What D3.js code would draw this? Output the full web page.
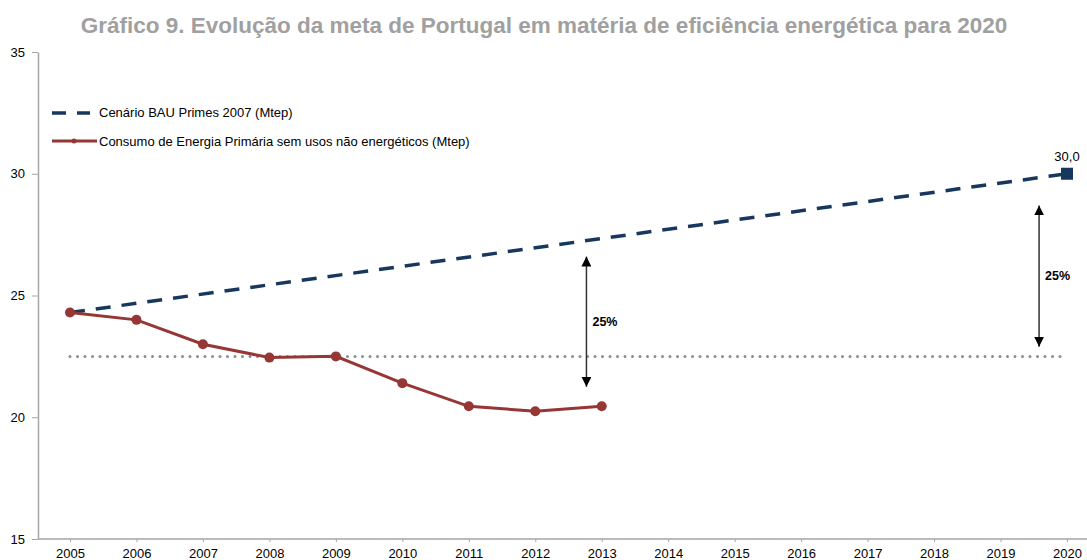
<!DOCTYPE html>
<html>
<head>
<meta charset="utf-8">
<script src="https://cdn.jsdelivr.net/npm/d3@7"></script>
<style>
	body{margin:0;background:#fff;}
	svg text{font-family:"Liberation Sans",Arial,sans-serif;}
	.axis path,.axis line{stroke:#a6a6a6;}
	.axis text{fill:#000;font-size:13px;}
</style>
</head>
<body>
<div id="chart"></div>
<script>
// anos e valores
var years=[2005,2006,2007,2008,2009,2010,2011,2012,2013,2014,2015,2016,2017,2018,2019,2020]
var consumoYears=[2005,2006,2007,2008,2009,2010,2011,2012,2013]
var consumo=[24.3,24.0,23.0,22.45,22.5,21.4,20.45,20.25,20.45]
var bauYears=[2005,2020]
var bau=[24.3,30.0]
var meta=22.5 // linha pontilhada
var yTicks=[15,20,25,30,35]
// setas de 25%: [ano, topo, base]
var arrows=[[2012.77,26.6,21.25],[2019.58,28.7,22.9]]

var title="Gráfico 9. Evolução da meta de Portugal em matéria de eficiência energética para 2020"
var legendLabels=["Cenário BAU Primes 2007 (Mtep)","Consumo de Energia Primária sem usos não energéticos (Mtep)"]

var width=1087, height=560

var svg=d3.select("#chart").append("svg")
	.attr("width",width)
	.attr("height",height)

var xScale=d3.scaleLinear().domain([2005,2020]).range([70,1067])
var yScale=d3.scaleLinear().domain([15,35]).range([539,52])

var red="#953735", navy="#17375e"

// titulo
svg.append("text")
	.attr("x",544).attr("y",33)
	.attr("text-anchor","middle")
	.style("font-size","22.5px").style("font-weight","bold")
	.attr("fill","#a0a0a0")
	.text(title)

// eixo y
var yAxis=svg.append("g")
	.attr("class","axis")
	.attr("transform","translate(38,0)")
	.call(d3.axisLeft(yScale).tickValues(yTicks).tickSize(6).tickPadding(7).tickSizeOuter(0))
yAxis.select(".domain").attr("stroke-width",1.5)

// eixo x
var xAxis=svg.append("g")
	.attr("class","axis")
	.attr("transform","translate(0,539)")
	.call(d3.axisBottom(xScale).tickValues(years).tickFormat(d3.format("d")).tickSize(3).tickPadding(7).tickSizeOuter(0))
xAxis.select(".domain").attr("d","M38,0H1087").attr("stroke-width",1.5)

// linha da meta
svg.append("line")
	.attr("x1",xScale(2005)).attr("x2",xScale(2020)-4)
	.attr("y1",yScale(meta)).attr("y2",yScale(meta))
	.attr("stroke","#8c8c8c").attr("stroke-width",3)
	.attr("stroke-dasharray","0 7.5").attr("stroke-linecap","round")

// cenário BAU
var line=d3.line()
	.x(function(d){return xScale(d[0])})
	.y(function(d){return yScale(d[1])})

svg.append("path")
	.datum(d3.zip(bauYears,bau))
	.attr("d",line)
	.attr("fill","none").attr("stroke",navy).attr("stroke-width",3.5)
	.attr("stroke-dasharray","15 11")

svg.append("rect")
	.attr("x",xScale(2020)-6).attr("y",yScale(30)-6)
	.attr("width",12).attr("height",12)
	.attr("fill",navy)
svg.append("text")
	.attr("x",xScale(2020)).attr("y",yScale(30)-13)
	.attr("text-anchor","middle").style("font-size","13px")
	.text(d3.format(".1f")(bau[1]).replace(".",","))

// consumo
var cons=d3.zip(consumoYears,consumo)
svg.append("path")
	.datum(cons)
	.attr("d",line)
	.attr("fill","none").attr("stroke",red).attr("stroke-width",3)
svg.selectAll(".dot")
	.data(cons)
	.enter().append("circle")
	.attr("class","dot")
	.attr("cx",function(d){return xScale(d[0])})
	.attr("cy",function(d){return yScale(d[1])})
	.attr("r",5)
	.attr("fill",red)

// setas
var defs=svg.append("defs")
defs.append("marker")
	.attr("id","head")
	.attr("viewBox","0 0 10 10")
	.attr("refX",10).attr("refY",5)
	.attr("markerWidth",10).attr("markerHeight",10)
	.attr("markerUnits","userSpaceOnUse")
	.attr("orient","auto-start-reverse")
	.append("path").attr("d","M0,0L10,5L0,10Z").attr("fill","#000")

arrows.forEach(function(a){
	svg.append("line")
		.attr("x1",xScale(a[0])).attr("x2",xScale(a[0]))
		.attr("y1",yScale(a[1])).attr("y2",yScale(a[2]))
		.attr("stroke","#333").attr("stroke-width",1.5)
		.attr("marker-start","url(#head)").attr("marker-end","url(#head)")
	svg.append("text")
		.attr("x",xScale(a[0])+6).attr("y",(yScale(a[1])+yScale(a[2]))/2+4)
		.style("font-size","12.5px").style("font-weight","bold")
		.text("25%")
})

// legenda
var leg=svg.append("g").attr("transform","translate(52,0)")
leg.append("line")
	.attr("x1",0).attr("x2",38).attr("y1",113).attr("y2",113)
	.attr("stroke",navy).attr("stroke-width",3.5).attr("stroke-dasharray","14 11")
leg.append("line")
	.attr("x1",0).attr("x2",45).attr("y1",141).attr("y2",141)
	.attr("stroke",red).attr("stroke-width",3)
leg.append("circle").attr("cx",22).attr("cy",141).attr("r",2.5).attr("fill",red)
leg.selectAll(".lt")
	.data(legendLabels)
	.enter().append("text")
	.attr("x",47).attr("y",function(d,i){return 117+i*28.5})
	.style("font-size","13px")
	.text(function(d){return d})
</script>
</body>
</html>
